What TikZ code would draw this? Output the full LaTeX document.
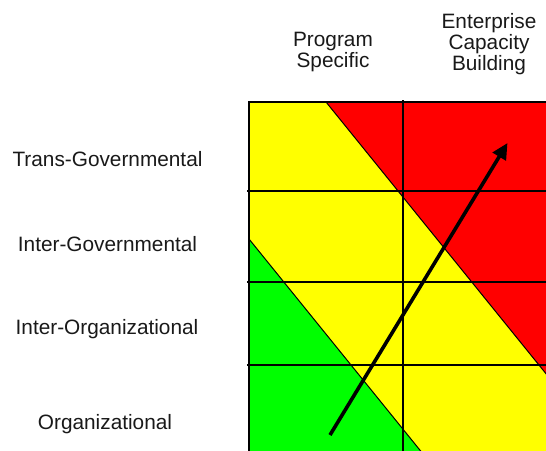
\documentclass[tikz,border=0pt]{standalone}
\usepackage{fontspec}
\setmainfont{Liberation Sans}
\usetikzlibrary{arrows.meta}
\definecolor{zonered}{RGB}{255,0,0}
\definecolor{zoneyellow}{RGB}{255,255,0}
\definecolor{zonegreen}{RGB}{0,255,0}
\begin{document}
\begin{tikzpicture}[x=1pt,y=-1pt,
  lbl/.style={inner sep=0pt,font=\fontsize{20.8}{21}\selectfont,text=black!90},
  collbl/.style={lbl,align=center},
  gridline/.style={line width=2pt},
  zoneedge/.style={line width=1pt},
  frame/.style={line width=2.2pt},
  growth/.style={line width=3.6pt,-{Triangle[length=16pt,width=15pt]}}]
\useasboundingbox (0,0) rectangle (546,450);
\clip (0,0) rectangle (546,450);

% matrix background and zones
\fill[zoneyellow] (249,102) rectangle (560,460);
\fill[zonered] (326,102) -- (560,102) -- (560,391) -- cycle;
\fill[zonegreen] (249,239) -- (426.3,458) -- (249,458) -- cycle;
\draw[zoneedge] (326,102) -- (560,391);
\draw[zoneedge] (249,239) -- (426.3,458);

% grid
\draw[gridline] (247,190.5) -- (560,190.5);
\draw[gridline] (247,282) -- (560,282);
\draw[gridline] (247,364.5) -- (560,364.5);
\draw[gridline] (403,100) -- (403,460);
\draw[frame] (249,102) rectangle (560,460);

% development arrow
\coordinate (start) at (330,435);
\coordinate (goal) at (507.5,143);
\draw[growth] (start) -- (goal);

% column headings
\node[collbl] (prog) at (333,52.5) {Program\\Specific};
\node[collbl] (ent) at (489,44) {Enterprise\\Capacity\\Building};

% row headings
\node[lbl,anchor=base] (trans) at (107.5,166) {Trans-Governmental};
\node[lbl,anchor=base] (intergov) at (107.5,251.5) {Inter-Governmental};
\node[lbl,anchor=base] (interorg) at (107,334) {Inter-Organizational};
\node[lbl,anchor=base] (org) at (105,429) {Organizational};
\end{tikzpicture}
\end{document}
